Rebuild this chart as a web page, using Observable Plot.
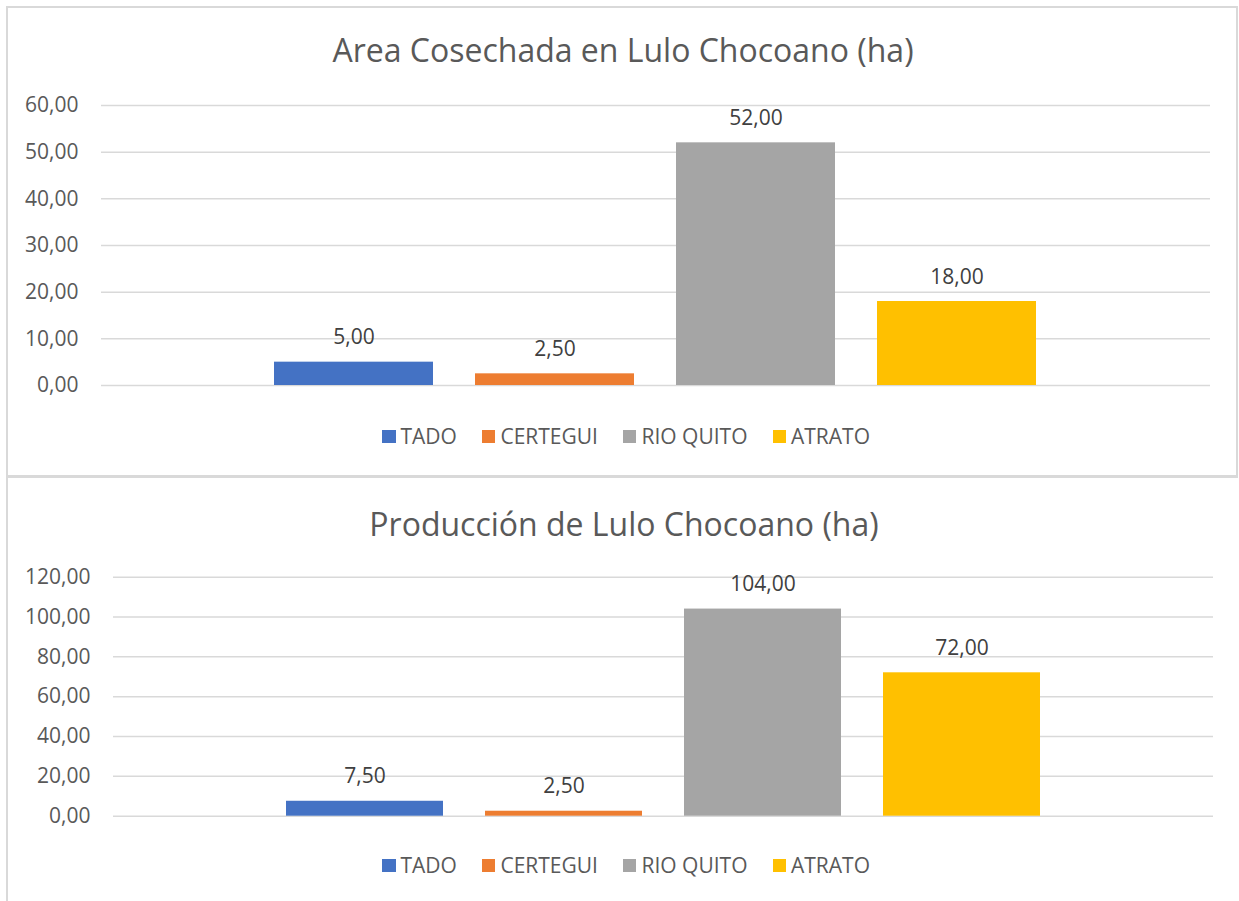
<!DOCTYPE html>
<html>
<head>
<meta charset="utf-8">
<script src="https://cdn.jsdelivr.net/npm/d3@7"></script>
<script src="https://cdn.jsdelivr.net/npm/@observablehq/plot@0.6"></script>
<style>
  body { margin: 0; background: #fff; font-family: "Open Sans", sans-serif; }
  #page { position: relative; width: 1239px; height: 901px; overflow: hidden; background: #fff; }
  .frame { position: absolute; box-sizing: border-box; }
  .title { position: absolute; left: 0; text-align: center; font-size: 32px; line-height: 32px; color: #595959; white-space: nowrap; }
  .legend { position: absolute; left: 0; width: 1252px; height: 21px; display: flex; justify-content: center; align-items: center; font-size: 21px; line-height: 21px; color: #595959; white-space: nowrap; }
  .item { display: flex; align-items: center; margin: 0 12.5px; }
  .sw { width: 13.5px; height: 13.5px; margin-right: 5px; }
  .chart { position: absolute; left: 0; }
</style>
</head>
<body>
<div id="page">
  <div class="frame" style="left:6px;top:6px;width:1232px;height:472px;border:2px solid #d9d9d9;border-bottom-width:3px;"></div>
  <div class="frame" style="left:6px;top:478px;width:1300px;height:500px;border-left:2px solid #d9d9d9;"></div>
</div>
<script>
// ---- data ----
const categories = ["TADO", "CERTEGUI", "RIO QUITO", "ATRATO"];
const colors = ["#4472C4", "#ED7D31", "#A5A5A5", "#FFC000"];
const areaValues = [5.00, 2.50, 52.00, 18.00];
const produccionValues = [7.50, 2.50, 104.00, 72.00];
const areaTicks = [0, 10, 20, 30, 40, 50, 60];
const produccionTicks = [0, 20, 40, 60, 80, 100, 120];
const areaTitle = "Area Cosechada en Lulo Chocoano (ha)";
const produccionTitle = "Producción de Lulo Chocoano (ha)";

const fmt = d => d.toFixed(2).replace(".", ",");
const page = document.getElementById("page");

function addTitle(text, top, width) {
  const t = document.createElement("div");
  t.className = "title";
  t.style.top = top + "px";
  t.style.width = width + "px";
  t.textContent = text;
  page.appendChild(t);
}

function addLegend(top) {
  const lg = document.createElement("div");
  lg.className = "legend";
  lg.style.top = top + "px";
  categories.forEach((c, i) => {
    const it = document.createElement("div");
    it.className = "item";
    const sw = document.createElement("div");
    sw.className = "sw";
    sw.style.background = colors[i];
    const lab = document.createElement("span");
    lab.textContent = c;
    it.appendChild(sw);
    it.appendChild(lab);
    lg.appendChild(it);
  });
  page.appendChild(lg);
}

function addChart({values, ticks, top, height, mTop, mBottom, mLeft, mRight, xRange}) {
  const data = categories.map((c, i) => ({cat: c, value: values[i]}));
  const svg = Plot.plot({
    width: 1239,
    height,
    marginTop: mTop,
    marginBottom: mBottom,
    marginLeft: mLeft,
    marginRight: mRight,
    style: {fontFamily: "Open Sans", fontSize: "21px", color: "#595959", background: "transparent", overflow: "visible"},
    x: {domain: categories, range: xRange, paddingInner: 0.21, paddingOuter: 0, axis: null},
    y: {domain: [ticks[0], ticks[ticks.length - 1]], axis: null},
    color: {domain: categories, range: colors},
    marks: [
      Plot.ruleY(ticks, {stroke: "#d9d9d9", strokeWidth: 1.5}),
      Plot.axisY({ticks, tickSize: 0, tickPadding: 23, tickFormat: fmt, label: null, fontSize: 21, fill: "#595959"}),
      Plot.barY(data, {x: "cat", y: "value", fill: "cat"}),
      Plot.text(data, {x: "cat", y: "value", text: d => fmt(d.value), lineAnchor: "bottom", dy: -18, fill: "#404040", fontSize: 21})
    ]
  });
  svg.classList.add("chart");
  svg.style.top = top + "px";
  page.appendChild(svg);
}

// top chart
addTitle(areaTitle, 33.6, 1246);
addChart({values: areaValues, ticks: areaTicks, top: 0, height: 477, mTop: 105, mBottom: 92, mLeft: 101, mRight: 29, xRange: [274, 1036]});
addLegend(426);

// bottom chart
addTitle(produccionTitle, 507.6, 1248);
addChart({values: produccionValues, ticks: produccionTicks, top: 478, height: 423, mTop: 98.7, mBottom: 85.3, mLeft: 113, mRight: 26, xRange: [285, 1042]});
addLegend(855);
</script>
</body>
</html>
